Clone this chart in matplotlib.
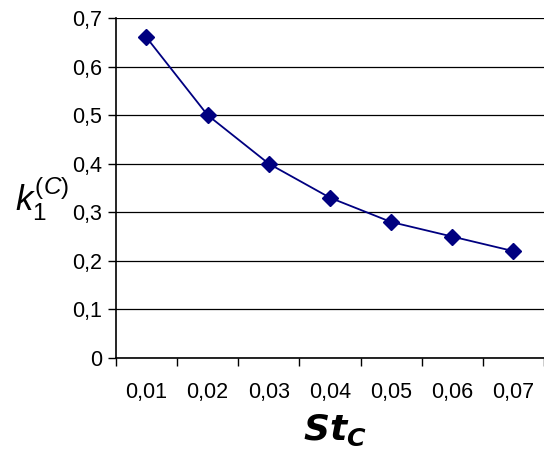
import matplotlib
matplotlib.use("Agg")
import matplotlib.pyplot as plt

plt.rcParams["font.family"] = ["Liberation Sans", "DejaVu Sans"]
plt.rcParams["mathtext.fontset"] = "custom"
plt.rcParams["mathtext.rm"] = "Liberation Sans"
plt.rcParams["mathtext.it"] = "Liberation Sans:italic"
plt.rcParams["mathtext.bfit"] = "DejaVu Sans:italic:bold"

# data
categories = ["0,01", "0,02", "0,03", "0,04", "0,05", "0,06", "0,07"]
k1_values = [0.66, 0.50, 0.40, 0.33, 0.28, 0.25, 0.22]
y_ticks = [0, 0.1, 0.2, 0.3, 0.4, 0.5, 0.6, 0.7]
y_labels = ["0", "0,1", "0,2", "0,3", "0,4", "0,5", "0,6", "0,7"]

fig = plt.figure(figsize=(5.44, 4.61), dpi=100)
ax = fig.add_axes([0.213, 0.2234, 0.787, 0.7376])

x = list(range(len(categories)))
ax.plot(x, k1_values, color="#000080", linewidth=1.3,
        marker="D", markersize=8, markerfacecolor="#000080",
        markeredgecolor="#000080", zorder=3, clip_on=False)

ax.set_xlim(-0.5, len(categories) - 0.5)
ax.set_ylim(0, 0.7)

# category labels centred, tick marks between categories
ax.set_xticks(x)
ax.set_xticklabels(categories, fontsize=15.5)
ax.tick_params(axis="x", which="major", length=0, pad=17)
ax.set_xticks([i - 0.5 for i in range(len(categories) + 1)], minor=True)
ax.tick_params(axis="x", which="minor", length=6, width=1, direction="out")

ax.set_yticks(y_ticks)
ax.set_yticklabels(y_labels, fontsize=15.5)
ax.tick_params(axis="y", length=6, width=1, direction="out", pad=4)

ax.grid(axis="y", color="black", linewidth=0.9)
ax.set_axisbelow(True)
for side in ("top", "right"):
    ax.spines[side].set_visible(False)
for side in ("left", "bottom"):
    ax.spines[side].set_linewidth(1.2)

fig.text(0.078, 0.568, r"$k_1^{(C)}$", fontsize=25, ha="center", va="center")
fig.text(0.615, 0.067, r"$\mathbfit{St}_{\mathbfit{C}}$", fontsize=26,
         ha="center", va="center")

fig.savefig("out.png", dpi=100)
